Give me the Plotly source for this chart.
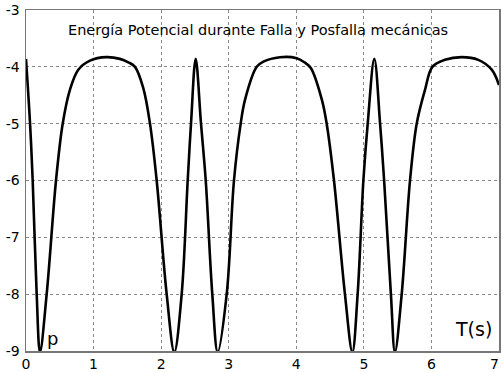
import plotly.graph_objects as go

# Time (s) and potential energy
t = [0.0, 0.06, 0.099, 0.158, 0.207, 0.306, 0.444, 0.543, 0.651, 0.774, 0.947, 1.19, 1.39,
     1.514, 1.613, 1.736, 1.835, 1.934, 2.082, 2.195, 2.304, 2.393, 2.442, 2.511, 2.59, 2.66,
     2.757, 2.837, 2.97, 3.078, 3.177, 3.241, 3.414, 3.513, 3.759, 4.006, 4.12, 4.215, 4.379,
     4.45, 4.558, 4.72, 4.83, 4.908, 4.993, 5.057, 5.155, 5.24, 5.30, 5.40, 5.46, 5.56, 5.683,
     5.782, 5.905, 6.014, 6.20, 6.448, 6.694, 6.892, 7.0]
energia = [-3.86, -5.0, -6.0, -8.0, -9.02, -8.0, -6.0, -5.0, -4.40, -4.05, -3.89, -3.83, -3.86,
           -3.92, -4.0, -4.375, -5.0, -6.0, -8.0, -9.02, -8.0, -6.0, -5.0, -3.86, -5.0, -6.0,
           -8.0, -9.02, -8.0, -6.0, -5.0, -4.58, -4.0, -3.907, -3.83, -3.847, -3.92, -4.02, -4.58,
           -5.0, -6.0, -8.0, -9.02, -8.0, -6.0, -5.0, -3.86, -5.0, -6.0, -8.0, -9.02, -8.0, -6.0,
           -5.0, -4.405, -4.0, -3.877, -3.83, -3.877, -4.05, -4.32]

x_ticks = [0, 1, 2, 3, 4, 5, 6, 7]
x_labels = ["0", "1", "2", "3", "4", "5", "6", ""]
last_x_label = "7"
y_ticks = [-3, -4, -5, -6, -7, -8, -9]

title_text = "Energía Potencial durante Falla y Posfalla mecánicas"
fnt = "DejaVu Sans"

fig = go.Figure()
fig.add_trace(go.Scatter(x=t, y=energia, mode="lines",
                         line=dict(color="black", width=2.6, shape="spline", smoothing=1.0),
                         showlegend=False, hoverinfo="skip"))

fig.update_layout(
    width=501, height=372,
    margin=dict(l=26, r=2, t=10, b=21, autoexpand=False),
    paper_bgcolor="white", plot_bgcolor="white",
    font=dict(family=fnt, color="black", size=14),
)
fig.update_xaxes(range=[0, 7], tickvals=x_ticks, ticktext=x_labels,
                 showgrid=True, gridcolor="#888888", griddash="dot", gridwidth=1,
                 showline=True, linecolor="#777777", linewidth=1.5, mirror=True,
                 ticks="", zeroline=False, automargin=False, ticklabelstandoff=0,
                 ticklabeloverflow="allow", tickfont=dict(size=14, family=fnt))
fig.update_yaxes(range=[-9, -3], tickvals=y_ticks, ticktext=[str(v) for v in y_ticks],
                 showgrid=True, gridcolor="#888888", griddash="dot", gridwidth=1,
                 showline=True, linecolor="#777777", linewidth=1.5, mirror=True,
                 ticks="", zeroline=False, automargin=False, ticklabelstandoff=2,
                 ticklabeloverflow="allow", tickfont=dict(size=14, family=fnt))

# last x tick label kept inside the page edge
fig.add_annotation(x=1, y=0, xref="paper", yref="paper", text=last_x_label, showarrow=False,
                   font=dict(size=14, family=fnt, color="black"), xanchor="right", yanchor="top",
                   xshift=2, yshift=-3)
fig.add_annotation(x=0.49, y=0.94, xref="paper", yref="paper", text=title_text,
                   showarrow=False, font=dict(size=14.5, family=fnt, color="black"),
                   xanchor="center", yanchor="middle")
fig.add_annotation(x=0.39, y=-9, xref="x", yref="y", text="p", showarrow=False,
                   font=dict(size=18, family=fnt, color="black"), xanchor="center", yanchor="bottom")
fig.add_annotation(x=6.93, y=-8.62, xref="x", yref="y", text="T(s)", showarrow=False,
                   font=dict(size=19, family=fnt, color="black"), xanchor="right", yanchor="middle")

fig.write_html("out.html", config={"displayModeBar": False, "staticPlot": True},
               post_script="document.body.style.margin='0';document.body.style.overflow='hidden';")
